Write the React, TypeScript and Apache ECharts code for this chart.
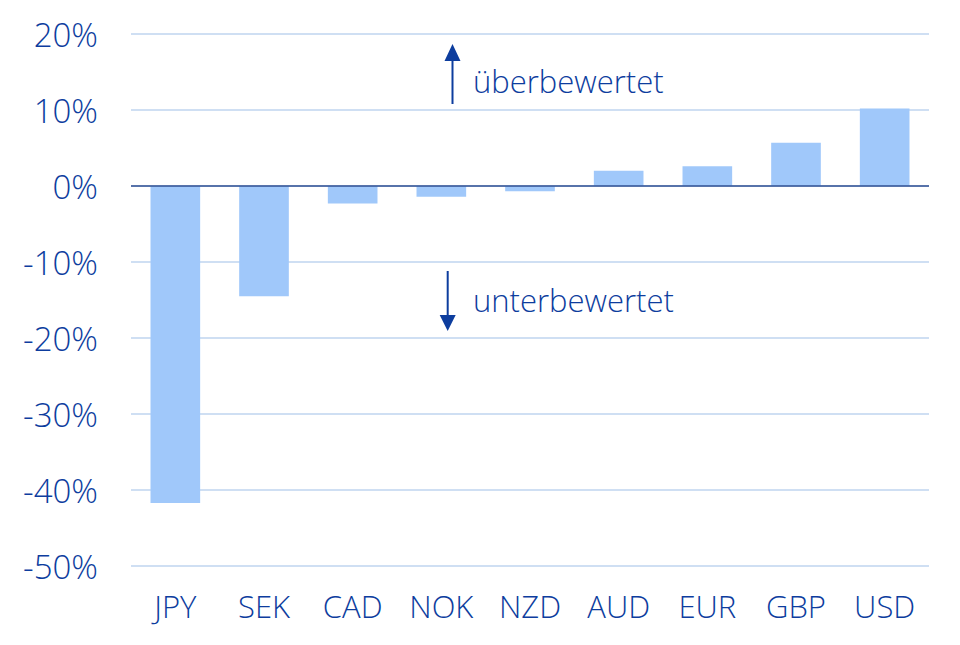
import React, { useEffect, useRef } from "react";
import * as echarts from "echarts";

const categories = ["JPY", "SEK", "CAD", "NOK", "NZD", "AUD", "EUR", "GBP", "USD"];
const values = [-41.7, -14.5, -2.3, -1.4, -0.7, 2.0, 2.6, 5.7, 10.2];
const yMin = -50;
const yMax = 20;
const yStep = 10;
const overLabel = "überbewertet";
const underLabel = "unterbewertet";

const TEXT = "#0D3D9E";
const BAR = "#A0C8FA";
const GRID = "#BFD5EF";
const ZERO = "#2F4F92";
const FONT = "'Open Sans', 'Noto Sans', sans-serif";

export default function App() {
  const ref = useRef<HTMLDivElement>(null);
  useEffect(() => {
    if (!ref.current) return;
    const chart = echarts.init(ref.current, undefined, { renderer: "svg" });
    chart.setOption({
      animation: false,
      backgroundColor: "#ffffff",
      textStyle: { fontFamily: FONT },
      grid: { left: 131, right: 31, top: 34, bottom: 79, containLabel: false },
      xAxis: {
        type: "category",
        data: categories,
        axisLine: { show: false },
        axisTick: { show: false },
        axisLabel: { color: TEXT, fontSize: 31, fontWeight: 350, margin: 24, fontFamily: FONT },
      },
      yAxis: {
        type: "value",
        min: yMin,
        max: yMax,
        interval: yStep,
        axisLine: { show: false },
        axisTick: { show: false },
        splitLine: { lineStyle: { color: GRID, width: 1.5 } },
        axisLabel: {
          color: TEXT,
          fontSize: 33,
          fontWeight: 350,
          margin: 33,
          fontFamily: FONT,
          formatter: (v: number) => `${v}%`,
        },
      },
      series: [
        {
          type: "bar",
          data: values,
          barWidth: "56%",
          itemStyle: { color: BAR },
          markLine: {
            silent: true,
            symbol: "none",
            label: { show: false },
            lineStyle: { color: ZERO, width: 1.5, type: "solid" },
            data: [{ yAxis: 0 }],
          },
        },
      ],
      graphic: [
        {
          type: "line",
          shape: { x1: 452.5, y1: 104, x2: 452.5, y2: 58 },
          style: { stroke: TEXT, lineWidth: 2 },
        },
        {
          type: "polygon",
          shape: { points: [[452.5, 44], [444.5, 61], [460.5, 61]] },
          style: { fill: TEXT },
        },
        {
          type: "text",
          x: 473,
          y: 81,
          style: {
            text: overLabel,
            fill: TEXT,
            font: `350 31px ${FONT}`,
            textVerticalAlign: "middle",
            verticalAlign: "middle",
          },
        },
        {
          type: "line",
          shape: { x1: 447.7, y1: 271, x2: 447.7, y2: 318 },
          style: { stroke: TEXT, lineWidth: 2 },
        },
        {
          type: "polygon",
          shape: { points: [[447.7, 331], [439.7, 315], [455.7, 315]] },
          style: { fill: TEXT },
        },
        {
          type: "text",
          x: 473,
          y: 300,
          style: {
            text: underLabel,
            fill: TEXT,
            font: `350 31px ${FONT}`,
            textVerticalAlign: "middle",
            verticalAlign: "middle",
          },
        },
      ],
    });
    return () => chart.dispose();
  }, []);
  return (
    <div
      ref={ref}
      style={{ width: 960, height: 645, position: "fixed", left: 0, top: 0, background: "#fff" }}
    />
  );
}
